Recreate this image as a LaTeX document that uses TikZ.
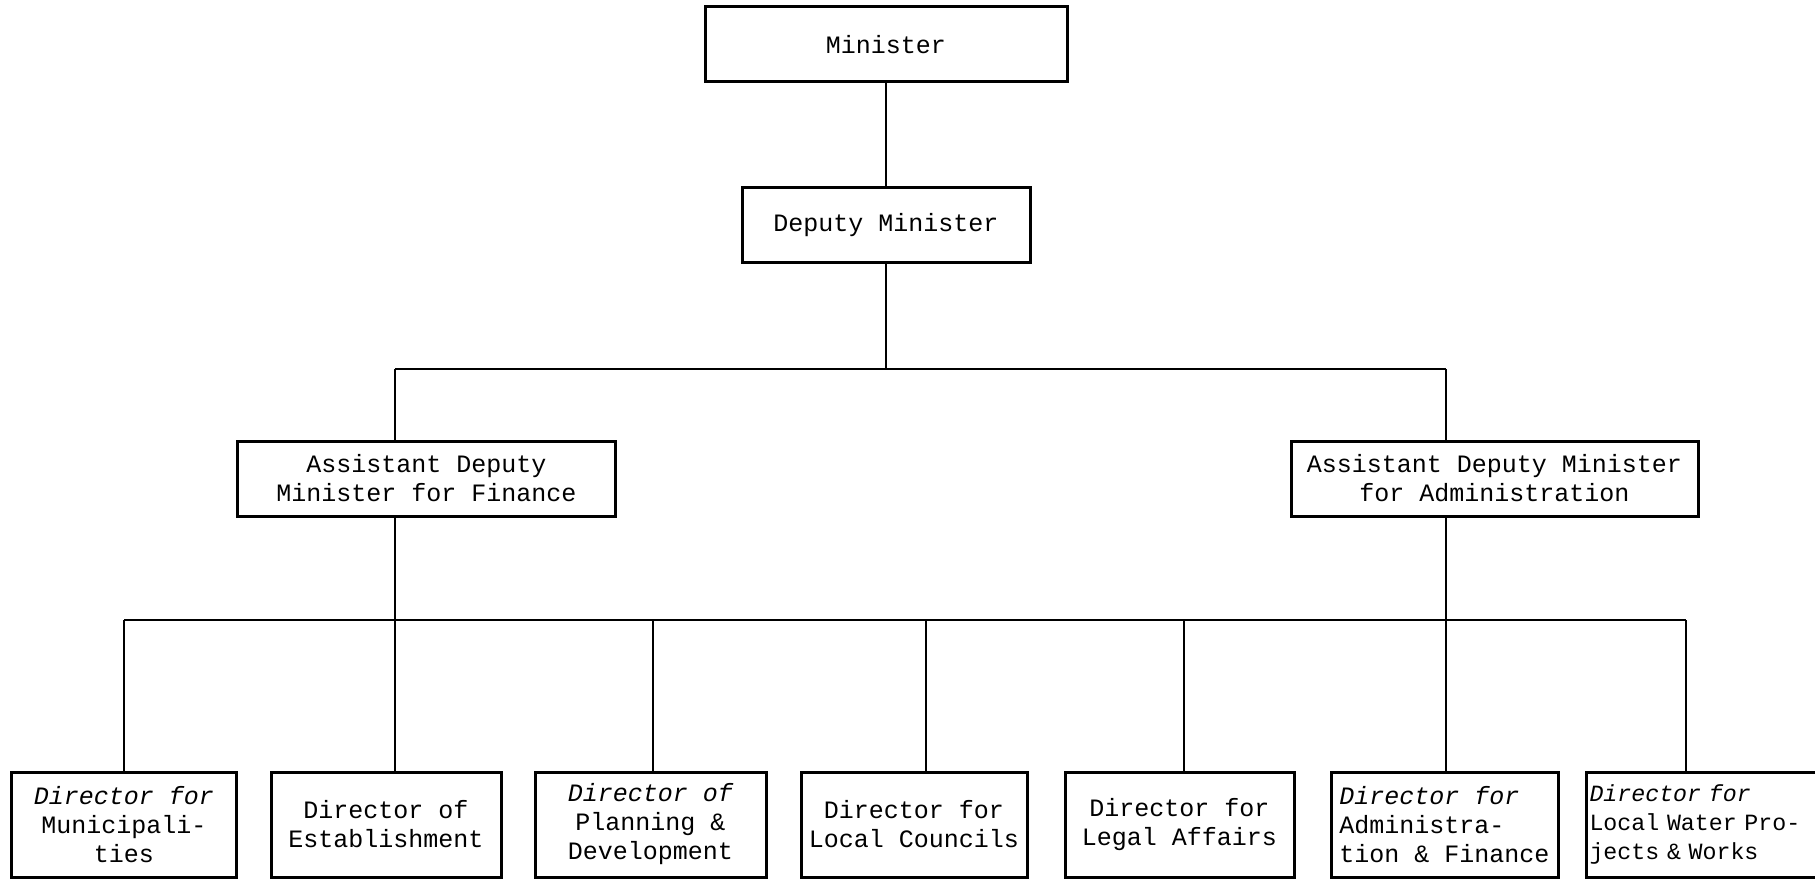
\documentclass[tikz,border=0pt]{standalone}
\usepackage{fontspec}
\setmonofont{Liberation Mono}
\begin{document}
\begin{tikzpicture}[x=0.4pt,y=-0.4pt,
  box/.style={draw, line width=1.2pt, inner sep=0pt, align=center,
    font=\ttfamily\fontsize{10}{11.6}\selectfont},
  link/.style={line width=0.8pt}]
\clip (0,0) rectangle (1815,879);
\fill[white] (0,0) rectangle (1815,879);
% top levels
\node[box, minimum width=144.8pt, minimum height=30pt] (min) at (886,44.5) {Minister};
\node[box, minimum width=115.2pt, minimum height=29.6pt] (dep) at (886,225) {Deputy Minister};
\node[box, minimum width=150.8pt, minimum height=30pt] (fin) at (426.5,478.5) {Assistant Deputy\\Minister for Finance};
\node[box, minimum width=162.8pt, minimum height=30pt] (adm) at (1494.5,478.5) {Assistant Deputy Minister\\for Administration};
% bottom level
\node[box, minimum width=89.6pt, minimum height=42pt] (b1) at (124,824.5) {{\itshape Director for}\\Municipali-\\ties};
\node[box, minimum width=92pt, minimum height=42pt] (b2) at (386,824.5) {Director of\\Establishment};
\node[box, minimum width=92.4pt, minimum height=42pt] (b3) at (650.5,824.5) {{\itshape Director of}\\Planning \&\\Development};
\node[box, minimum width=90.4pt, minimum height=42pt] (b4) at (914,824.5) {Director for\\Local Councils};
\node[box, minimum width=91.6pt, minimum height=42pt] (b5) at (1179.5,824.5) {Director for\\Legal Affairs};
\node[box, align=left, minimum width=90.8pt, minimum height=42pt] (b6) at (1444.5,824.5) {{\itshape Director for}\\Administra-\\tion \& Finance};
\node[box, align=left, text width=96pt, inner xsep=1.2pt, minimum height=42pt, anchor=west,
  font=\ttfamily\fontsize{9.3}{11.6}\selectfont] (b7) at (1585,824.5) {{\itshape Director for}\\Local Water Pro-\\jects \& Works};
% junction coordinates
\coordinate (j1) at (395,369);
\coordinate (j2) at (1446,369);
\coordinate (d1) at (124,620);
\coordinate (d2) at (395,620);
\coordinate (d3) at (653,620);
\coordinate (d4) at (926,620);
\coordinate (d5) at (1184,620);
\coordinate (d6) at (1446,620);
\coordinate (d7) at (1686,620);
% connectors
\draw[link] (min.south) -- (dep.north);
\draw[link] (dep.south) -- (dep.south |- j1);
\draw[link] (j1) -- (j2);
\draw[link] (j1) -- (j1 |- fin.north);
\draw[link] (j2) -- (j2 |- adm.north);
\draw[link] (d2 |- fin.south) -- (d2 |- b2.north);
\draw[link] (d6 |- adm.south) -- (d6 |- b6.north);
\draw[link] (d1) -- (d7);
\draw[link] (d1) -- (d1 |- b1.north);
\draw[link] (d3) -- (d3 |- b3.north);
\draw[link] (d4) -- (d4 |- b4.north);
\draw[link] (d5) -- (d5 |- b5.north);
\draw[link] (d7) -- (d7 |- b7.north);
\end{tikzpicture}
\end{document}
